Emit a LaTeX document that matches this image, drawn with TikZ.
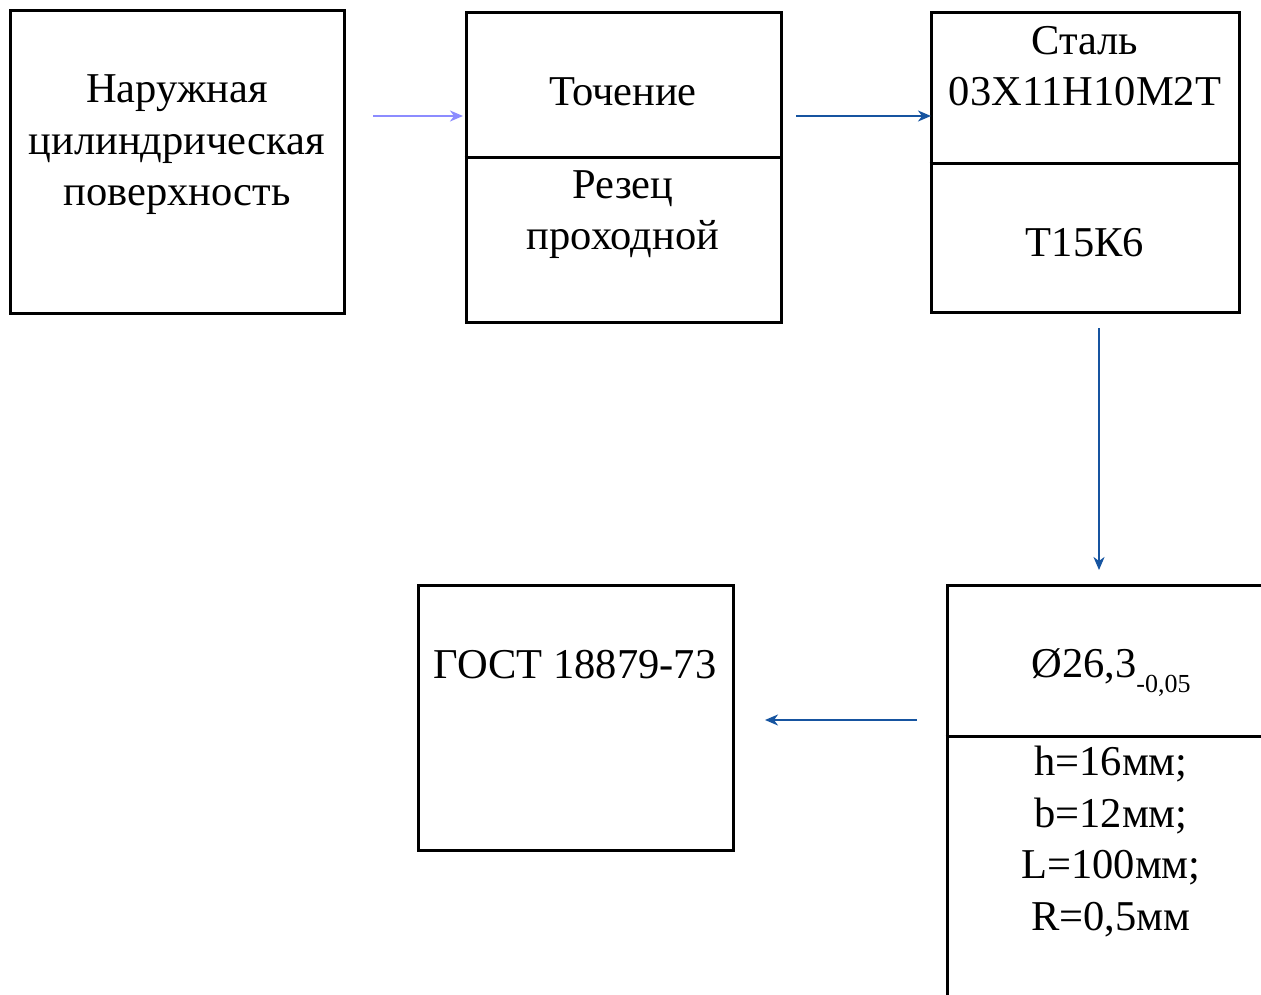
\documentclass[tikz,border=0pt]{standalone}
\usepackage{fontspec}
\setmainfont{Liberation Serif}
\usetikzlibrary{arrows.meta, positioning}
\definecolor{flowblue}{RGB}{22,84,160}
\definecolor{paleblue}{RGB}{140,140,255}
\tikzset{
  box/.style={draw=black, line width=3pt, inner sep=0pt}, % frame of every block
  txt/.style={font=\fontsize{42.5}{51.5}\selectfont, align=center, anchor=base, inner sep=0pt},
  flow/.style={-{Stealth[length=13pt, width=11pt, inset=4pt]}, line width=2pt, draw=flowblue},
}

\begin{document}
\begin{tikzpicture}[x=1pt, y=-1pt]
  \clip (0,0) rectangle (1261,995);

  % blocks
  \node[box, minimum width=334pt, minimum height=302pt] (surf) at (177,162) {};
  \node[box, minimum width=315pt, minimum height=309pt] (turn) at (623.5,167.5) {};
  \node[box, minimum width=308pt, minimum height=299pt] (steel) at (1085,162.5) {};
  \node[box, minimum width=343pt, minimum height=435pt] (dim) at (1118.5,802.5) {};
  \node[box, minimum width=315pt, minimum height=265pt] (gost) at (575.5,717.5) {};

  % dividers
  \draw[line width=3pt] (turn.west |- 0,158) -- (turn.east |- 0,158);
  \draw[line width=3pt] (steel.west |- 0,164) -- (steel.east |- 0,164);
  \draw[line width=3pt] (dim.west |- 0,736) -- (dim.east |- 0,736);

  % texts (base = last line)
  \node[txt] (surftxt) at (177,206) {Наружная\\цилиндрическая\\поверхность};
  \node[txt] (turntxt) at (623,106) {Точение};
  \node[txt] (tooltxt) at (623,250) {Резец\\проходной};
  \node[txt] (steeltxt) at (1085,106) {Сталь\\03Х11Н10М2Т};
  \node[txt] (gradetxt) at (1085,257) {Т15К6};
  \node[txt] (diatxt) at (1111,677) {Ø26,3{\fontsize{26}{28}\selectfont\raisebox{-15pt}{-0,05}}};
  \node[txt] (sizetxt) at (1111,930) {h=16мм;\\b=12мм;\\L=100мм;\\R=0,5мм};
  \node[txt] (gosttxt) at (575,678) {ГОСТ 18879-73};

  % connectors
  \coordinate (s1) at (373,116);
  \coordinate (e1) at (463,116);
  \coordinate (s2) at (796,116);
  \coordinate (e2) at (931,116);
  \coordinate (s3) at (1099,328);
  \coordinate (e3) at (1099,570);
  \coordinate (s4) at (917,720);
  \coordinate (e4) at (765,720);
  \draw[flow, draw=paleblue] (s1) -- (e1);
  \draw[flow] (s2) -- (e2);
  \draw[flow] (s3) -- (e3);
  \draw[flow] (s4) -- (e4);
\end{tikzpicture}
\end{document}
